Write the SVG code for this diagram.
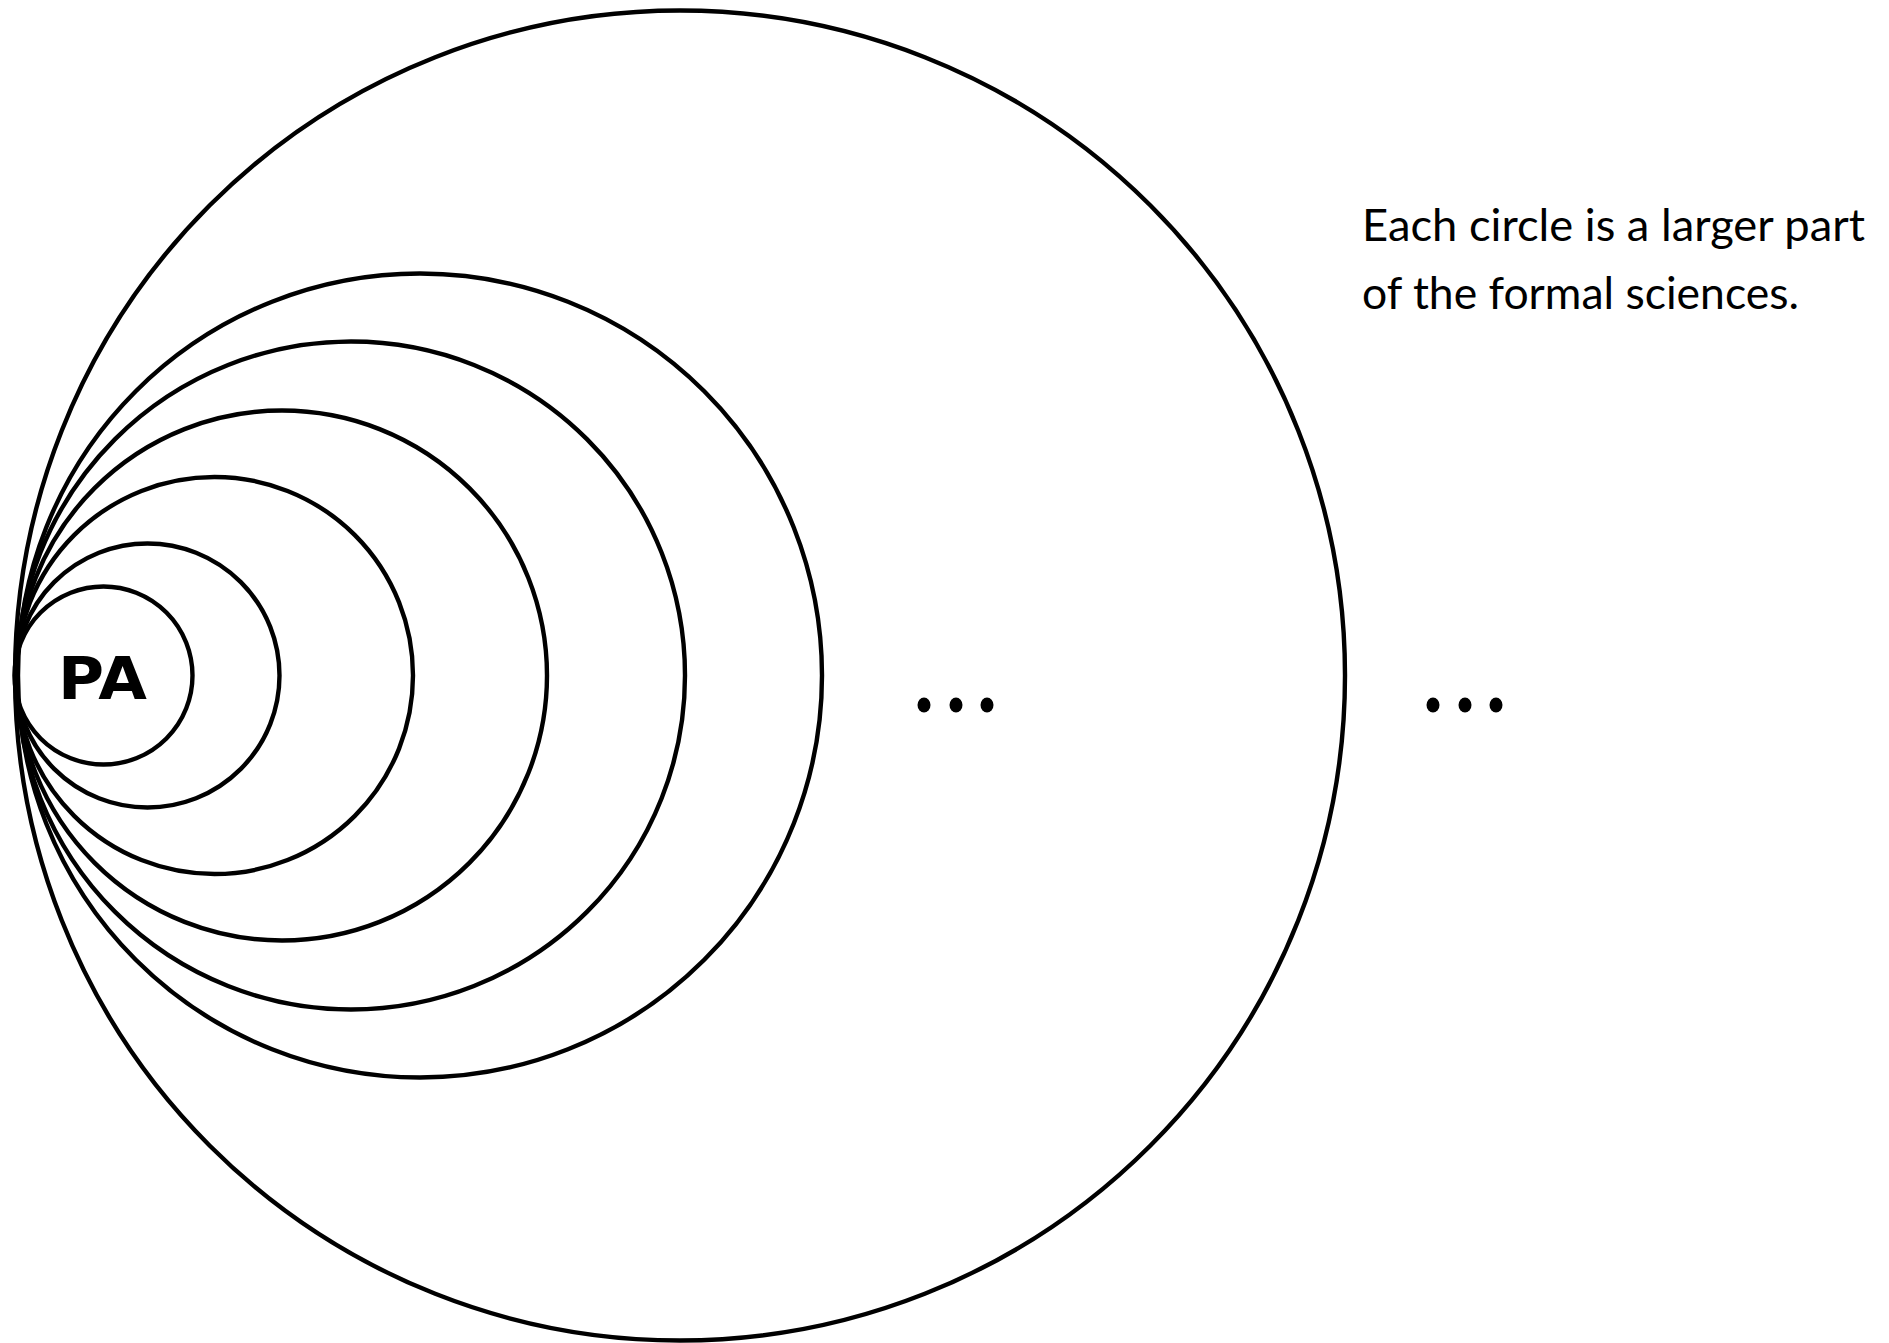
<svg xmlns="http://www.w3.org/2000/svg" width="1889" height="1343" viewBox="0 0 1889 1343">
<style>
.c{fill:none;stroke:#000;stroke-width:4.4}
.lbl{font-family:Lato,"Liberation Sans",sans-serif;font-size:45px;fill:#000}
.pa{font-family:"DejaVu Sans","Liberation Sans",sans-serif;font-weight:bold;font-size:58px;fill:#000}
</style>
<rect width="1889" height="1343" fill="#fff"/>
<g id="circle-7"><circle class="c" cx="680" cy="675.5" r="665"/></g>
<g id="circle-6"><circle class="c" cx="420" cy="675.5" r="402"/></g>
<g id="circle-5"><circle class="c" cx="351" cy="675.5" r="334"/></g>
<g id="circle-4"><circle class="c" cx="282" cy="675.5" r="265"/></g>
<g id="circle-3"><circle class="c" cx="214.5" cy="675.5" r="198.5"/></g>
<g id="circle-2"><circle class="c" cx="147.5" cy="675.5" r="132"/></g>
<g id="pa"><circle class="c" cx="103.5" cy="675.5" r="89"/>
<text class="pa" x="58" y="699" textLength="89" lengthAdjust="spacingAndGlyphs">PA</text></g>
<g id="dots-1"><ellipse cx="924" cy="705" rx="6.5" ry="7.5"/><ellipse cx="956" cy="705" rx="6.5" ry="7.5"/><ellipse cx="987" cy="705" rx="6.5" ry="7.5"/></g>
<g id="dots-2"><ellipse cx="1433" cy="705" rx="6.5" ry="7.5"/><ellipse cx="1465" cy="705" rx="6.5" ry="7.5"/><ellipse cx="1496" cy="705" rx="6.5" ry="7.5"/></g>
<g id="note">
<text class="lbl" x="1362" y="241" textLength="503" lengthAdjust="spacingAndGlyphs">Each circle is a larger part</text>
<text class="lbl" x="1362" y="309" textLength="437" lengthAdjust="spacingAndGlyphs">of the formal sciences.</text>
</g>
<g id="connectors"></g>
</svg>
